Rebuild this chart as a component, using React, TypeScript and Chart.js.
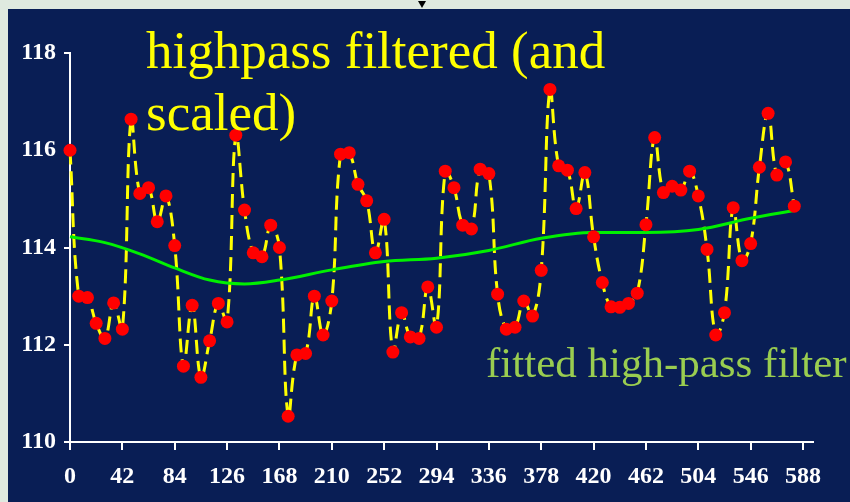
import React, { useEffect, useRef } from "react";
import { Chart, registerables } from "chart.js";

Chart.register(...registerables);

// sample positions (x axis)
const samplePositions = [
  0, 7, 14, 21, 28, 35, 42, 49, 56, 63, 70, 77, 84, 91, 98, 105, 112, 119, 126, 133,
  140, 147, 154, 161, 168, 175, 182, 189, 196, 203, 210, 217, 224, 231, 238, 245, 252, 259, 266, 273,
  280, 287, 294, 301, 308, 315, 322, 329, 336, 343, 350, 357, 364, 371, 378, 385, 392, 399, 406, 413,
  420, 427, 434, 441, 448, 455, 462, 469, 476, 483, 490, 497, 504, 511, 518, 525, 532, 539, 546, 553,
  560, 567, 574, 581,
];

// highpass filtered (and scaled) series
const highpassValues = [
  116.0, 113.0, 112.97, 112.44, 112.13, 112.86, 112.32, 116.64, 115.11, 115.23,
  114.53, 115.06, 114.04, 111.56, 112.81, 111.33, 112.08, 112.85, 112.47, 116.31,
  114.77, 113.89, 113.81, 114.46, 114.0, 110.53, 111.79, 111.82, 113.0, 112.2,
  112.9, 115.92, 115.95, 115.3, 114.96, 113.89, 114.58, 111.85, 112.66, 112.16,
  112.13, 113.19, 112.36, 115.57, 115.23, 114.46, 114.38, 115.61, 115.52, 113.04,
  112.32, 112.36, 112.9, 112.59, 113.53, 117.25, 115.68, 115.59, 114.8, 115.54,
  114.22, 113.28, 112.78, 112.77, 112.85, 113.06, 114.47, 116.26, 115.13, 115.26,
  115.18, 115.57, 115.06, 113.96, 112.2, 112.66, 114.82, 113.73, 114.08, 115.65,
  116.76, 115.49, 115.76, 114.85,
];

// fitted high-pass filter curve
const filterPositions = [0, 28, 56, 84, 112, 140, 168, 210, 252, 294, 336, 378, 420, 462, 504, 546, 581];
const filterValues = [
  114.22, 114.1, 113.87, 113.58, 113.33, 113.25, 113.33, 113.54, 113.71, 113.78,
  113.94, 114.19, 114.31, 114.31, 114.37, 114.6, 114.76,
];

const xTickValues = [0, 42, 84, 126, 168, 210, 252, 294, 336, 378, 420, 462, 504, 546, 588];
const yTickValues = [110, 112, 114, 116, 118];

const titleLines = ["highpass filtered (and", "scaled)"];
const filterLabel = "fitted high-pass filter";

const NAVY = "#091e55";
const FRAME = "#dfe9df";

export default function App() {
  const canvasRef = useRef<HTMLCanvasElement | null>(null);

  useEffect(() => {
    const canvas = canvasRef.current;
    if (!canvas) return;

    const bgPlugin = {
      id: "bg",
      beforeDraw(chart: any) {
        const ctx = chart.ctx;
        ctx.save();
        ctx.fillStyle = FRAME;
        ctx.fillRect(0, 0, 850, 502);
        ctx.fillStyle = NAVY;
        ctx.fillRect(8, 9, 842, 493);
        ctx.fillStyle = "#000";
        ctx.beginPath();
        ctx.moveTo(418, 1);
        ctx.lineTo(426, 1);
        ctx.lineTo(422, 8);
        ctx.closePath();
        ctx.fill();
        ctx.restore();
      },
      afterDatasetsDraw(chart: any) {
        const ctx = chart.ctx;
        ctx.save();
        ctx.textAlign = "left";
        ctx.textBaseline = "alphabetic";
        ctx.fillStyle = "#ffff00";
        ctx.font = '53px "Liberation Serif", "Times New Roman", serif';
        ctx.fillText(titleLines[0], 146, 68);
        ctx.fillText(titleLines[1], 146, 130);
        ctx.fillStyle = "#9acd50";
        ctx.font = '43px "Liberation Serif", "Times New Roman", serif';
        ctx.fillText(filterLabel, 486, 377);
        ctx.restore();
      },
    };

    const tickFont = { family: '"Liberation Serif", serif', size: 24, weight: "bold" };

    const chart = new Chart(canvas, {
      type: "line",
      data: {
        datasets: [
          {
            label: "points",
            data: samplePositions.map((x, i) => ({ x, y: highpassValues[i] })),
            showLine: false,
            pointRadius: 6.5,
            pointBackgroundColor: "#ff0000",
            pointBorderWidth: 0,
            borderColor: "#ff0000",
            clip: false,
          },
          {
            label: "filter",
            data: filterPositions.map((x, i) => ({ x, y: filterValues[i] })),
            borderColor: "#00f000",
            borderWidth: 3,
            pointRadius: 0,
            cubicInterpolationMode: "monotone",
            clip: false,
          },
          {
            label: "highpass",
            data: samplePositions.map((x, i) => ({ x, y: highpassValues[i] })),
            borderColor: "#ffff00",
            borderWidth: 3,
            borderDash: [14, 7],
            pointRadius: 0,
            tension: 0.4,
            clip: false,
          },
        ],
      },
      options: {
        responsive: false,
        animation: false,
        events: [],
        layout: { padding: { top: 53, right: 37, left: 0, bottom: 0 } },
        plugins: { legend: { display: false }, tooltip: { enabled: false } },
        scales: {
          x: {
            type: "linear",
            min: 0,
            max: 596,
            afterBuildTicks: (scale: any) => {
              scale.ticks = xTickValues.map((v) => ({ value: v }));
            },
            afterFit: (scale: any) => {
              scale.height = 60;
            },
            grid: { drawOnChartArea: false, drawTicks: true, tickLength: 8, color: "#ffffff", lineWidth: 2 },
            border: { display: true, color: "#ffffff", width: 2 },
            ticks: {
              color: "#ffffff",
              font: tickFont,
              padding: 12,
              maxRotation: 0,
              autoSkip: false,
            },
          },
          y: {
            type: "linear",
            min: 110,
            max: 118,
            afterBuildTicks: (scale: any) => {
              scale.ticks = yTickValues.map((v) => ({ value: v }));
            },
            afterFit: (scale: any) => {
              scale.width = 70;
            },
            grid: { drawOnChartArea: false, drawTicks: true, tickLength: 6, color: "#ffffff", lineWidth: 2 },
            border: { display: true, color: "#ffffff", width: 2 },
            ticks: {
              color: "#ffffff",
              font: tickFont,
              padding: 8,
            },
          },
        },
      },
      plugins: [bgPlugin],
    } as any);

    return () => chart.destroy();
  }, []);

  return (
    <div style={{ position: "absolute", left: 0, top: 0, width: 850, height: 502 }}>
      <canvas ref={canvasRef} width={850} height={502} style={{ width: 850, height: 502, display: "block" }} />
    </div>
  );
}
